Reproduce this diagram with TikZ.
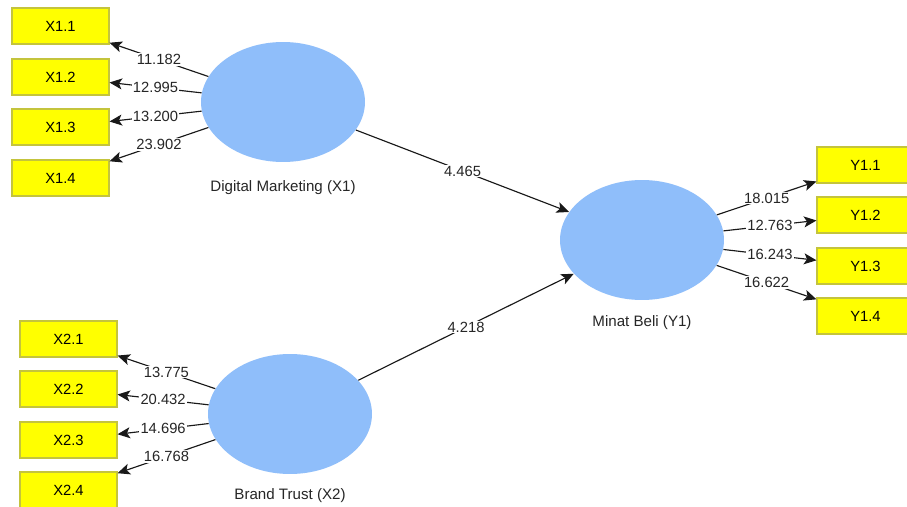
\documentclass[tikz,border=0pt]{standalone}
\usepackage{fontspec}
\setmainfont{Liberation Sans}
\usepackage{tikz}
\usetikzlibrary{arrows.meta, shapes.geometric}

\definecolor{latentblue}{RGB}{143,190,250}
\definecolor{indyellow}{RGB}{255,255,0}
\definecolor{indborder}{RGB}{196,196,60}

\tikzset{
    indicator/.style={draw=indborder, fill=indyellow, line width=0.6pt,
        minimum width=1.94cm, minimum height=0.72cm, inner sep=0pt,
        font=\fontsize{8.4}{10}\selectfont},
    latent/.style={ellipse, fill=latentblue, draw=none,
        minimum width=3.28cm, minimum height=2.4cm, inner sep=0pt},
    caption/.style={font=\fontsize{8.6}{10}\selectfont, text=black!85},
    loading/.style={draw=black!90, line width=0.65pt,
        -{Stealth[length=2.5mm, width=2.2mm, inset=0.6mm]}},
    val/.style={fill=white, inner sep=0.6pt, text=black!85,
        font=\fontsize{8.4}{10}\selectfont}
}

\begin{document}
\begin{tikzpicture}[x=0.02cm, y=-0.02cm]
    % page frame
    \clip (0,0) rectangle (907,507);
    \fill[white] (0,0) rectangle (907,507);

    % latent variables
    \node[latent] (dm) at (283,102) {};
    \node[latent] (bt) at (290,414) {};
    \node[latent] (mb) at (642,240) {};
    \node[caption] (dmlab) at (283,188) {Digital Marketing (X1)};
    \node[caption] (btlab) at (290,496) {Brand Trust (X2)};
    \node[caption] (mblab) at (642,323) {Minat Beli (Y1)};

    % indicators of X1
    \node[indicator] (x11) at (60.5,26) {X1.1};
    \node[indicator] (x12) at (60.5,77) {X1.2};
    \node[indicator] (x13) at (60.5,127) {X1.3};
    \node[indicator] (x14) at (60.5,178) {X1.4};
    % indicators of X2
    \node[indicator] (x21) at (68.5,339) {X2.1};
    \node[indicator] (x22) at (68.5,389) {X2.2};
    \node[indicator] (x23) at (68.5,440) {X2.3};
    \node[indicator] (x24) at (68.5,490) {X2.4};
    % indicators of Y1
    \node[indicator] (y11) at (865.5,165) {Y1.1};
    \node[indicator] (y12) at (865.5,215) {Y1.2};
    \node[indicator] (y13) at (865.5,266) {Y1.3};
    \node[indicator] (y14) at (865.5,316) {Y1.4};

    % outer loadings (t values)
    \draw[loading] (dm) -- node[val] {11.182} (x11);
    \draw[loading] (dm) -- node[val] {12.995} (x12);
    \draw[loading] (dm) -- node[val] {13.200} (x13);
    \draw[loading] (dm) -- node[val] {23.902} (x14);

    \draw[loading] (bt) -- node[val] {13.775} (x21);
    \draw[loading] (bt) -- node[val] {20.432} (x22);
    \draw[loading] (bt) -- node[val] {14.696} (x23);
    \draw[loading] (bt) -- node[val] {16.768} (x24);

    \draw[loading] (mb) -- node[val] {18.015} (y11);
    \draw[loading] (mb) -- node[val] {12.763} (y12);
    \draw[loading] (mb) -- node[val] {16.243} (y13);
    \draw[loading] (mb) -- node[val] {16.622} (y14);

    % inner model paths
    \draw[loading] (dm) -- node[val] {4.465} (mb);
    \draw[loading] (bt) -- node[val] {4.218} (mb);
\end{tikzpicture}
\end{document}
